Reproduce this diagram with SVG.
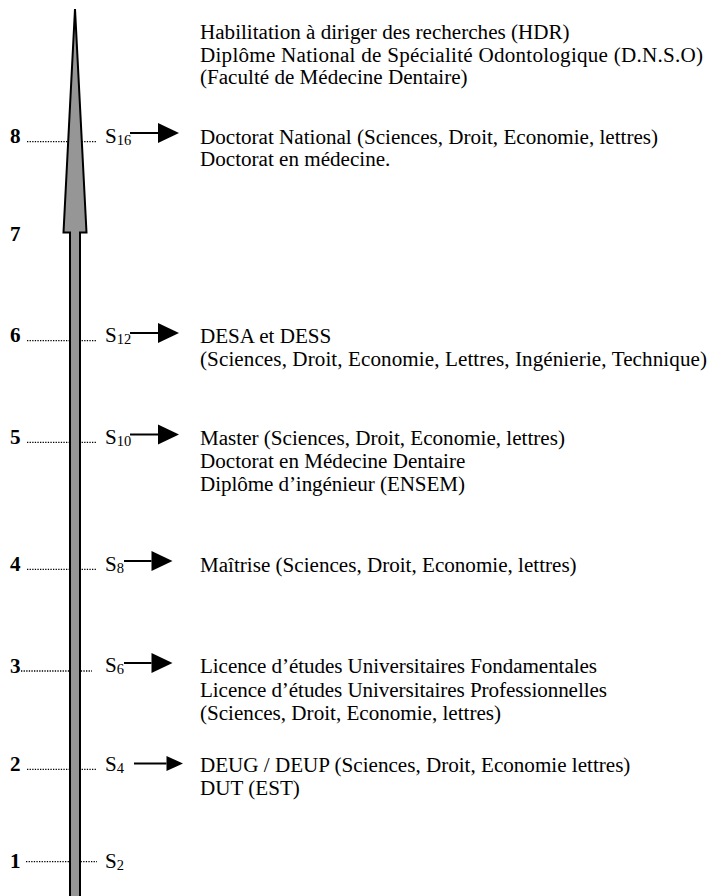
<svg xmlns="http://www.w3.org/2000/svg" width="710" height="896" viewBox="0 0 710 896">
<style>
text{font-family:"Liberation Serif","Times New Roman",serif;font-size:21.1px;fill:#000}
.num{font-weight:bold}
.sub{font-size:14.5px}
.dot{stroke:#000;stroke-width:1.3;stroke-dasharray:1.3 1.3;fill:none}
.arr{stroke:#000;stroke-width:2;fill:none}
.axis{fill:#969696;stroke:#000;stroke-width:2}
</style>
<defs>
<marker id="head" markerUnits="userSpaceOnUse" markerWidth="22" markerHeight="20" refX="0" refY="10" orient="auto" overflow="visible">
<path d="M0,0 L21,10 L0,20 Z" fill="#000"/>
</marker>
<marker id="headS" markerUnits="userSpaceOnUse" markerWidth="17" markerHeight="15" refX="0" refY="7.5" orient="auto" overflow="visible">
<path d="M0,0 L16.5,7.5 L0,15 Z" fill="#000"/>
</marker>
</defs>

<g id="ticks">
<line class="dot" x1="27" y1="141.7" x2="97" y2="141.7"/>
<line class="dot" x1="27" y1="340.7" x2="97" y2="340.7"/>
<line class="dot" x1="27" y1="442.3" x2="97" y2="442.3"/>
<line class="dot" x1="27" y1="569.3" x2="97" y2="569.3"/>
<line class="dot" x1="21" y1="671" x2="92" y2="671"/>
<line class="dot" x1="27" y1="769.3" x2="97" y2="769.3"/>
<line class="dot" x1="26" y1="861.7" x2="97" y2="861.7"/>
</g>

<g id="axis">
<polygon class="axis" points="75,9 86.5,232.5 80,232.5 80,900 70,900 70,232.5 63.5,232.5"/>
</g>

<g id="connectors">
<line class="arr" x1="130" y1="133" x2="158" y2="133" marker-end="url(#head)"/>
<line class="arr" x1="130" y1="333" x2="158" y2="333" marker-end="url(#head)"/>
<line class="arr" x1="130" y1="434.5" x2="158" y2="434.5" marker-end="url(#head)"/>
<line class="arr" x1="124" y1="561" x2="151.5" y2="561" marker-end="url(#head)"/>
<line class="arr" x1="124" y1="663" x2="151.5" y2="663" marker-end="url(#head)"/>
<line class="arr" x1="134" y1="763.5" x2="166.5" y2="763.5" marker-end="url(#headS)"/>
</g>

<g id="top">
<text x="200" y="39">Habilitation à diriger des recherches (HDR)</text>
<text x="200" y="61.7" textLength="503" lengthAdjust="spacing">Diplôme National de Spécialité Odontologique (D.N.S.O)</text>
<text x="200" y="84.4">(Faculté de Médecine Dentaire)</text>
</g>

<g id="level8">
<text class="num" x="10" y="143.3">8</text>
<text x="105" y="142.7">S<tspan class="sub" dy="2">16</tspan></text>
<text x="200" y="143.5">Doctorat National (Sciences, Droit, Economie, lettres)</text>
<text x="200" y="166.4">Doctorat en médecine.</text>
</g>

<g id="level7">
<text class="num" x="10" y="240.7">7</text>
</g>

<g id="level6">
<text class="num" x="10" y="342.3">6</text>
<text x="105" y="341.7">S<tspan class="sub" dy="2">12</tspan></text>
<text x="200" y="342.5">DESA et DESS</text>
<text x="200" y="365.5" textLength="507" lengthAdjust="spacing">(Sciences, Droit, Economie, Lettres, Ingénierie, Technique)</text>
</g>

<g id="level5">
<text class="num" x="10" y="444">5</text>
<text x="105" y="443.5">S<tspan class="sub" dy="2">10</tspan></text>
<text x="200" y="444.8">Master (Sciences, Droit, Economie, lettres)</text>
<text x="200" y="468">Doctorat en Médecine Dentaire</text>
<text x="200" y="491.2" textLength="265" lengthAdjust="spacing">Diplôme d’ingénieur (ENSEM)</text>
</g>

<g id="level4">
<text class="num" x="10" y="571">4</text>
<text x="105" y="570.5">S<tspan class="sub" dy="2">8</tspan></text>
<text x="200" y="571.6">Maîtrise (Sciences, Droit, Economie, lettres)</text>
</g>

<g id="level3">
<text class="num" x="10" y="672.7">3</text>
<text x="105" y="672">S<tspan class="sub" dy="2">6</tspan></text>
<text x="200" y="673.3" textLength="397" lengthAdjust="spacing">Licence d’études Universitaires Fondamentales</text>
<text x="200" y="696.5" textLength="407" lengthAdjust="spacing">Licence d’études Universitaires Professionnelles</text>
<text x="200" y="719.7">(Sciences, Droit, Economie, lettres)</text>
</g>

<g id="level2">
<text class="num" x="10" y="771">2</text>
<text x="105" y="770.5">S<tspan class="sub" dy="2">4</tspan></text>
<text x="200" y="771.6">DEUG / DEUP (Sciences, Droit, Economie lettres)</text>
<text x="200" y="794.8">DUT (EST)</text>
</g>

<g id="level1">
<text class="num" x="10" y="868">1</text>
<text x="105" y="867.5">S<tspan class="sub" dy="2">2</tspan></text>
</g>
</svg>
